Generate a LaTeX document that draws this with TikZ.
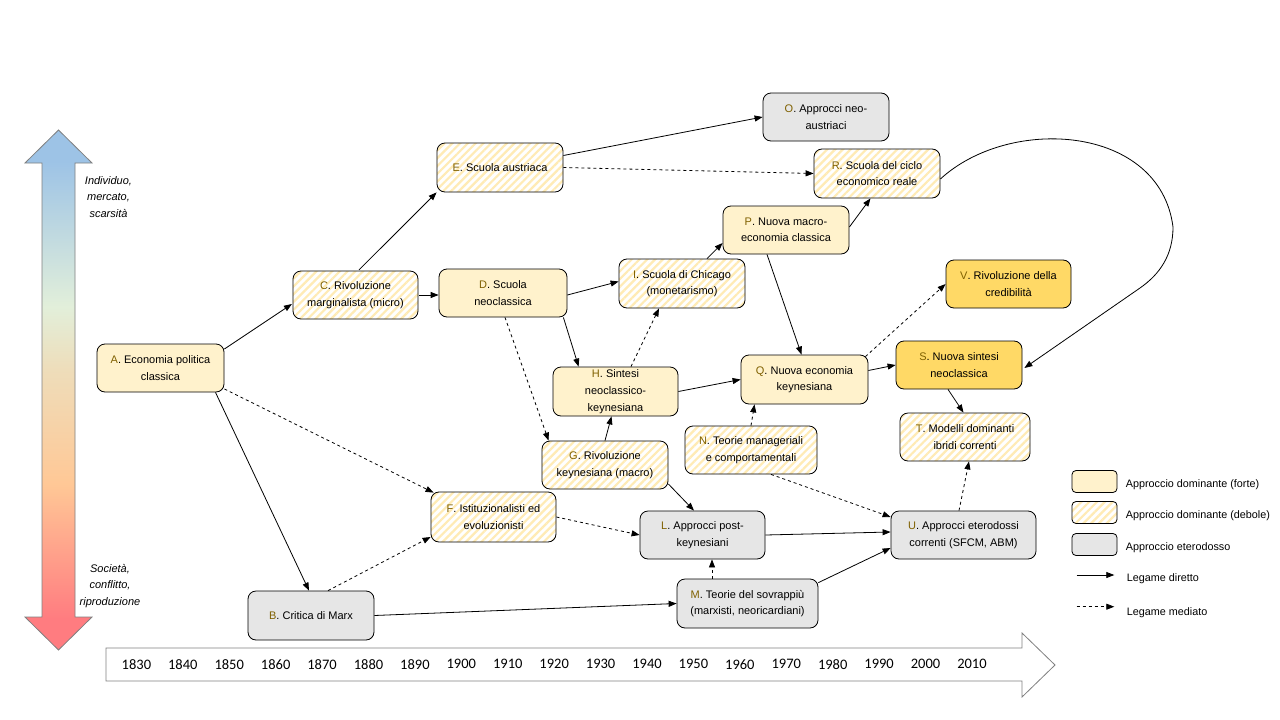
\documentclass[tikz,border=0pt]{standalone}
\usepackage{fontspec}
\setmainfont{Liberation Sans}
\newfontfamily\yearfont{Carlito}
\usetikzlibrary{arrows.meta,patterns.meta,calc}
\definecolor{strongfill}{HTML}{FFF2CC}
\definecolor{hetfill}{HTML}{E6E6E6}
\definecolor{goldfill}{HTML}{FFD966}
\definecolor{hatchcol}{HTML}{FFEBB5}
\definecolor{lettercol}{HTML}{7F6000}
\definecolor{axisgray}{HTML}{808080}
\definecolor{gBlue}{HTML}{9DC3E6}
\definecolor{gGreen}{HTML}{E2EFDA}
\definecolor{gBeige}{HTML}{EEDDBA}
\definecolor{gPeach}{HTML}{FFC896}
\definecolor{gRed}{HTML}{FF7C80}
\pgfdeclareverticalshading{axisgrad}{100bp}{color(0bp)=(gRed); color(28bp)=(gRed); color(41bp)=(gPeach); color(52bp)=(gBeige); color(58bp)=(gGreen); color(72bp)=(gBlue); color(100bp)=(gBlue)}
\newcommand{\Ltr}[1]{\textcolor{lettercol}{#1}}
\begin{document}
\begin{tikzpicture}[x=1pt,y=-1pt,
  box/.style={draw=black, line width=0.8pt, rounded corners=8pt, inner sep=0pt, align=center, font=\fontsize{11}{16.5}\selectfont},
  sz/.style 2 args={minimum width=#1, minimum height=#2},
  strongbox/.style={box, fill=strongfill},
  weakbox/.style={box, pattern={Lines[angle=45,distance=5.5pt,line width=2.2pt]}, pattern color=hatchcol},
  hetbox/.style={box, fill=hetfill},
  goldbox/.style={box, fill=goldfill},
  legbox/.style={draw=black, line width=0.8pt, rounded corners=4pt, minimum width=45, minimum height=22, inner sep=0pt},
  conn/.style={line width=0.8pt, -{Triangle[length=8pt,width=6pt]}},
  med/.style={conn, dash pattern=on 3pt off 3pt},
  axislabel/.style={align=center, inner sep=0pt, font=\fontsize{11}{16.5}\selectfont\itshape},
  legtext/.style={anchor=west, inner sep=0pt, font=\fontsize{10.8}{13}\selectfont},
  yeartext/.style={inner sep=0pt, font=\yearfont\fontsize{14.5}{16}\selectfont}
]
\fill[white] (0,0) rectangle (1280,720);

% vertical gradient axis
\path[shading=axisgrad, draw=axisgray, line width=0.8pt]
  (58.5,130) -- (92,163) -- (75,163) -- (75,617) -- (92,617) -- (58.5,650)
  -- (25,617) -- (42,617) -- (42,163) -- (25,163) -- cycle;
\node[axislabel] (labtop) at (108.5,197) {Individuo,\\mercato,\\scarsità};
\node[axislabel] (labbot) at (110,586) {Società,\\conflitto,\\riproduzione};

% timeline
\draw[axisgray, line width=0.8pt, fill=white]
  (106,648) -- (1022,648) -- (1022,633) -- (1055,665) -- (1022,697) -- (1022,681) -- (106,681) -- cycle;
\foreach \yr [count=\k from 0] in {1830,1840,...,2010}
  \node[yeartext] (yr\yr) at ({136.4+46.42*\k},664.3) {\yr};

% nodes
\node[strongbox, sz={127}{48}] (A) at (160.5,368) {\Ltr{A}. Economia politica\\classica};
\node[hetbox, sz={126}{49}] (B) at (311,615.5) {\Ltr{B}. Critica di Marx};
\node[weakbox, sz={125}{48}] (C) at (355.5,295) {\Ltr{C}. Rivoluzione\\marginalista (micro)};
\node[strongbox, sz={128}{48}] (D) at (503,293) {\Ltr{D}. Scuola\\neoclassica};
\node[weakbox, sz={126}{49}] (E) at (500,167.5) {\Ltr{E}. Scuola austriaca};
\node[weakbox, sz={125}{50}] (F) at (493.5,517) {\Ltr{F}. Istituzionalisti ed\\evoluzionisti};
\node[weakbox, sz={126}{48}] (G) at (605,465) {\Ltr{G}. Rivoluzione\\keynesiana (macro)};
\node[strongbox, sz={125}{49}, font=\fontsize{11}{16.8}\selectfont] (H) at (615.5,391.5) {\Ltr{H}. Sintesi\\neoclassico-\\keynesiana};
\node[weakbox, sz={126}{49}] (I) at (682,283.5) {\Ltr{I}. Scuola di Chicago\\(monetarismo)};
\node[hetbox, sz={125}{48}] (L) at (702.5,535) {\Ltr{L}. Approcci post-\\keynesiani};
\node[hetbox, sz={141}{49}] (M) at (747.5,603.5) {\Ltr{M}. Teorie del sovrappiù\\(marxisti, neoricardiani)};
\node[weakbox, sz={132}{48}] (N) at (751,450) {\Ltr{N}. Teorie manageriali\\e comportamentali};
\node[hetbox, sz={126}{48}] (O) at (826,117) {\Ltr{O}. Approcci neo-\\austriaci};
\node[strongbox, sz={126}{48}] (P) at (786,230) {\Ltr{P}. Nuova macro-\\economia classica};
\node[strongbox, sz={127}{49}] (Q) at (804.5,379.5) {\Ltr{Q}. Nuova economia\\keynesiana};
\node[weakbox, sz={126}{49}] (R) at (877,173.5) {\Ltr{R}. Scuola del ciclo\\economico reale};
\node[goldbox, sz={126}{48}] (S) at (959,365) {\Ltr{S}. Nuova sintesi\\neoclassica};
\node[weakbox, sz={130}{48}] (T) at (965,437) {\Ltr{T}. Modelli dominanti\\ibridi correnti};
\node[hetbox, sz={145}{48}] (U) at (963.5,535) {\Ltr{U}. Approcci eterodossi\\correnti (SFCM, ABM)};
\node[goldbox, sz={125}{48}] (V) at (1008.5,284) {\Ltr{V}. Rivoluzione della\\credibilità};

% connectors
\draw[conn] ($(A.east)+(0,-19)$) -- ($(C.west)+(0,9)$);
\draw[conn] ($(A.south)+(55,0)$) -- ($(B.north)+(-2,0)$);
\draw[med] ($(A.east)+(0,21)$) -- ($(F.north west)+(3,1)$);
\draw[med] ($(B.north)+(17,0)$) -- ($(F.west)+(0,20)$);
\draw[conn] (B.east) -- (M.west);
\draw[conn] ($(C.north)+(3.5,0)$) -- (E.south west);
\draw[conn] (C.east) -- (C.east -| D.west);
\draw[conn] ($(E.east)+(0,-12)$) -- (O.west);
\draw[med] (E.east) -- (R.west);
\draw[conn] ($(D.east)+(0,2)$) -- ($(I.west)+(0,-2)$);
\draw[conn] ($(D.south east)+(-4,0)$) -- ($(H.north west)+(26,0)$);
\draw[med] ($(D.south)+(2,0)$) -- ($(G.north west)+(7,0)$);
\draw[conn] ($(I.north)+(25,0)$) -- ($(P.west)+(0,13)$);
\draw[conn] ($(P.east)+(0,-3)$) -- ($(R.south)+(-6.5,0)$);
\draw[conn] ($(P.south)+(-19,0)$) -- ($(Q.north)+(-3,0)$);
\draw[med] ($(H.north)+(15.5,0)$) -- ($(I.south)+(-23,0)$);
\draw[conn] (H.east) -- (Q.west);
\draw[conn] (G.north) -- ($(H.south)+(-4,0)$);
\draw[conn] ($(G.east)+(0,19)$) -- ($(L.north)+(-8.5,0)$);
\draw[med] (F.east) -- (L.west);
\draw[med] (N.north) -- ($(Q.south)+(-50,0)$);
\draw[med] ($(N.south)+(20,0)$) -- ($(U.west)+(0,-18)$);
\draw[conn] (L.east) -- ($(U.west)+(0,-3)$);
\draw[med] ($(M.north)+(-35.5,0)$) -- ($(L.south)+(9.5,0)$);
\draw[conn] ($(M.north east)+(0,4)$) -- ($(U.west)+(0,13)$);
\draw[conn] ($(Q.east)+(0,-9)$) -- (S.west);
\draw[med] ($(Q.north east)+(-3,2)$) -- (V.west);
\draw[conn] ($(S.south)+(-11,0)$) -- ($(T.north)+(-1.5,0)$);
\draw[med] ($(U.north)+(-4.5,0)$) -- ($(T.south)+(4,0)$);
\draw[conn] ($(R.east)+(0,5.5)$) .. controls (1010,115) and (1160,125) .. (1173,227)
  .. controls (1173,255) and (1160,274) .. (1140,288) -- ($(S.east)+(2,3)$);

% legend
\node[legbox, fill=strongfill] (lg1) at (1094.5,481.5) {};
\node[legbox, pattern={Lines[angle=45,distance=5.5pt,line width=2.2pt]}, pattern color=hatchcol] (lg2) at (1094.5,512.5) {};
\node[legbox, fill=hetfill] (lg3) at (1094.5,544.5) {};
\node[legtext] (lt1) at (1125.7,484.3) {Approccio dominante (forte)};
\node[legtext] (lt2) at (1125.7,516) {Approccio dominante (debole)};
\node[legtext] (lt3) at (1125.7,547.7) {Approccio eterodosso};
\coordinate (la1) at (1076.7,575);
\coordinate (lb1) at (1114.3,575);
\coordinate (la2) at (1076.7,606.7);
\coordinate (lb2) at (1114.3,606.7);
\draw[conn] (la1) -- (lb1);
\draw[med] (la2) -- (lb2);
\node[legtext] (lt4) at (1126.7,579) {Legame diretto};
\node[legtext] (lt5) at (1126.7,612.3) {Legame mediato};
\end{tikzpicture}
\end{document}
